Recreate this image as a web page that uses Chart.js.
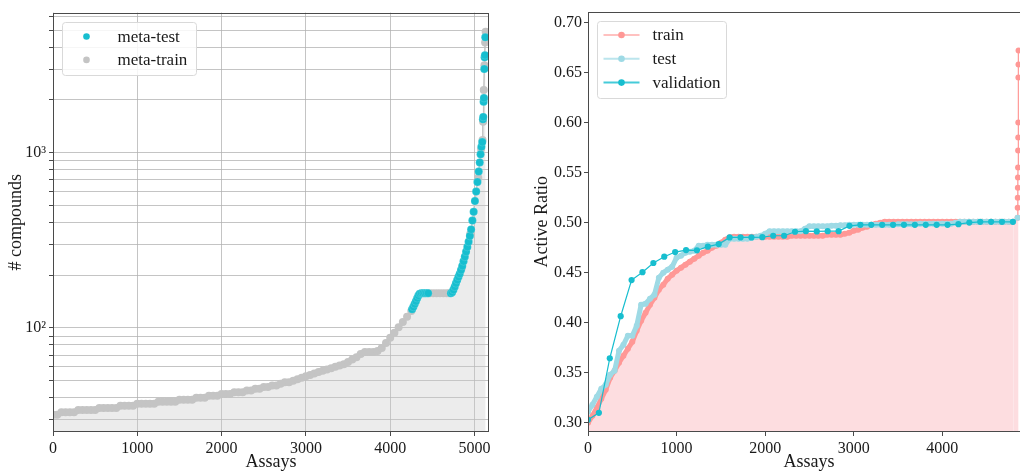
<!DOCTYPE html>
<html>
<head>
<meta charset="utf-8">
<script src="https://cdn.jsdelivr.net/npm/chart.js@4.4.1/dist/chart.umd.min.js"></script>
<style>
  html, body { margin: 0; padding: 0; background: #fff; overflow: hidden; width: 1020px; height: 471px; }
  canvas { position: absolute; top: 0; }
  #left { left: 0; }
  #right { left: 500px; }
</style>
</head>
<body>
<canvas id="left" width="500" height="471"></canvas>
<canvas id="right" width="534" height="471"></canvas>
<script>
// ---- left panel: # compounds per assay (sorted), meta-train vs meta-test ----
const trainAssays = [
  0, 50, 100, 150, 200, 250, 300, 350, 400, 450,
  500, 550, 600, 650, 700, 750, 800, 850, 900, 950,
  1000, 1050, 1100, 1150, 1200, 1250, 1300, 1350, 1400, 1450,
  1500, 1550, 1600, 1650, 1700, 1750, 1800, 1850, 1900, 1950,
  2000, 2050, 2100, 2150, 2200, 2250, 2300, 2350, 2400, 2450,
  2500, 2550, 2600, 2650, 2700, 2750, 2800, 2850, 2900, 2950,
  3000, 3050, 3100, 3150, 3200, 3250, 3300, 3350, 3400, 3450,
  3500, 3550, 3600, 3650, 3700, 3750, 3800, 3850, 3900, 3950,
  4000, 4050, 4100, 4150, 4200, 4250,
  4470, 4510, 4550, 4590, 4630, 4670, 4700,
  4850, 4950, 5045, 5078, 5096, 5102, 5110, 5118, 5126, 5132
];
const trainCompounds = [
  32, 32, 33, 33, 33, 33, 34, 34, 34, 34,
  34, 35, 35, 35, 35, 35, 36, 36, 36, 36,
  37, 37, 37, 37, 37, 38, 38, 38, 38, 38,
  39, 39, 39, 39, 40, 40, 40, 41, 41, 41,
  42, 42, 42, 43, 43, 43, 44, 44, 45, 45,
  46, 46, 47, 47, 48, 49, 49, 50, 51, 52,
  53, 54, 55, 56, 57, 58, 59, 60, 61, 62,
  64, 66, 68, 71, 73, 73, 73, 74, 77, 82,
  88, 94, 101, 108, 116, 125,
  158, 158, 158, 158, 158, 158, 158,
  220, 345, 720, 1050, 1180, 1500, 2280, 3150, 4250, 4900
];
const testAssays = [
  4260, 4275, 4290, 4305, 4320, 4335, 4350, 4370, 4390, 4410, 4430, 4450,
  4720, 4735, 4750, 4765, 4780, 4795, 4810, 4825, 4840, 4855,
  4870, 4885, 4900, 4915, 4930, 4945, 4960, 4975, 4990, 5005,
  5020, 5035, 5050, 5062, 5072, 5082, 5092, 5100, 5104, 5108,
  5112, 5116, 5120, 5124, 5128
];
const testCompounds = [
  128, 132, 137, 142, 148, 153, 157, 158, 158, 158, 158, 158,
  158, 160, 165, 172, 180, 188, 196, 204, 214, 226,
  240, 255, 272, 290, 310, 335, 365, 410, 460, 530,
  600, 680, 780, 880, 980, 1080, 1150, 1550, 1600, 1950,
  2050, 3000, 3500, 3600, 4550
];
const leftXTicks = [0, 1000, 2000, 3000, 4000, 5000];
const leftYTicks = [30, 40, 50, 60, 70, 80, 90, 100, 200, 300, 400, 500, 600, 700, 800, 900,
  1000, 2000, 3000, 4000, 5000, 6000];

// ---- right panel: active ratio ----
const curveAssays = [
  0, 50, 100, 150, 200, 250, 300, 350, 400, 450,
  500, 550, 600, 650, 700, 750, 800, 850, 900, 950,
  1000, 1050, 1100, 1150, 1200, 1250, 1300, 1350, 1400, 1450,
  1500, 1550, 1600, 1650, 1700, 1750, 1800, 1850, 1900, 1950,
  2000, 2050, 2100, 2150, 2200, 2250, 2300, 2350, 2400, 2450,
  2500, 2550, 2600, 2650, 2700, 2750, 2800, 2850, 2900, 2950,
  3000, 3050, 3100, 3150, 3200, 3250, 3300, 3350, 3400, 3450,
  3500, 3550, 3600, 3650, 3700, 3750, 3800, 3850, 3900, 3950,
  4000, 4050, 4100, 4150, 4200, 4250, 4300, 4350, 4400, 4450,
  4500, 4550, 4600, 4650, 4700, 4750, 4800
];
const trainRatio = [
  0.300, 0.307, 0.315, 0.324, 0.333, 0.345, 0.352, 0.360, 0.367, 0.374,
  0.381, 0.392, 0.402, 0.410, 0.418, 0.425, 0.433, 0.438, 0.444, 0.448,
  0.452, 0.455, 0.458, 0.461, 0.464, 0.467, 0.470, 0.472, 0.475, 0.477,
  0.480, 0.483, 0.4855, 0.486, 0.486, 0.486, 0.486, 0.486, 0.486, 0.486,
  0.486, 0.486, 0.486, 0.486, 0.486, 0.486, 0.487, 0.487, 0.487, 0.487,
  0.487, 0.487, 0.487, 0.487, 0.488, 0.488, 0.488, 0.488, 0.489, 0.490,
  0.492, 0.493, 0.495, 0.496, 0.498, 0.499, 0.500, 0.501, 0.501, 0.501,
  0.501, 0.501, 0.501, 0.501, 0.501, 0.501, 0.501, 0.501, 0.501, 0.501,
  0.501, 0.501, 0.501, 0.501, 0.501, 0.501, 0.501, 0.501, 0.501, 0.501,
  0.501, 0.501, 0.501, 0.501, 0.501, 0.501, 0.501
];
const trainTailAssays = [4850, 4851, 4852, 4853, 4854, 4855, 4856, 4857, 4858, 4859, 4860, 4861];
const trainTailRatio = [0.505, 0.515, 0.525, 0.535, 0.545, 0.555, 0.572, 0.585, 0.600, 0.645, 0.658, 0.672];
const testRatio = [
  0.311, 0.318, 0.326, 0.334, 0.338, 0.348, 0.352, 0.372, 0.378, 0.387,
  0.387, 0.397, 0.418, 0.419, 0.424, 0.428, 0.445, 0.450, 0.453, 0.456,
  0.465, 0.467, 0.470, 0.471, 0.472, 0.477, 0.477, 0.478, 0.478, 0.478,
  0.478, 0.478, 0.484, 0.484, 0.484, 0.484, 0.484, 0.485, 0.486, 0.487,
  0.489, 0.4915, 0.4915, 0.4915, 0.4915, 0.4915, 0.4915, 0.4915, 0.4915, 0.494,
  0.4965, 0.4965, 0.4965, 0.4965, 0.4965, 0.497, 0.497, 0.4975, 0.4975, 0.4978,
  0.4978, 0.4978, 0.4978, 0.4978, 0.4978, 0.4978, 0.4978, 0.4978, 0.4978, 0.4978,
  0.4985, 0.4985, 0.4985, 0.4985, 0.4985, 0.499, 0.499, 0.499, 0.499, 0.499,
  0.499, 0.499, 0.499, 0.500, 0.5008, 0.5008, 0.5008, 0.5008, 0.5008, 0.5008,
  0.5008, 0.5008, 0.5008, 0.5008, 0.5008, 0.5008, 0.5008
];
const testTailAssays = [4850];
const testTailRatio = [0.505];
const valAssays = [
  0, 123, 246, 369, 492, 615, 738, 861, 984, 1107,
  1230, 1353, 1476, 1599, 1722, 1845, 1968, 2091, 2214, 2337,
  2460, 2583, 2706, 2829, 2952, 3075, 3198, 3321, 3444, 3567,
  3690, 3813, 3936, 4059, 4182, 4305, 4428, 4551, 4674, 4797
];
const valRatio = [
  0.303, 0.310, 0.3645, 0.4065, 0.4426, 0.4505, 0.4597, 0.466, 0.4706, 0.4726,
  0.4723, 0.476, 0.4786, 0.4852, 0.4852, 0.4852, 0.4855, 0.4869, 0.4869, 0.4909,
  0.4915, 0.4912, 0.4915, 0.4915, 0.4968, 0.4978, 0.4978, 0.4978, 0.4978, 0.4978,
  0.4978, 0.4978, 0.4978, 0.4978, 0.4985, 0.5001, 0.5008, 0.5008, 0.5008, 0.5008
];
const rightXTicks = [0, 1000, 2000, 3000, 4000];
const rightYTicks = [0.30, 0.35, 0.40, 0.45, 0.50, 0.55, 0.60, 0.65, 0.70];

//pairs up x and y arrays
function pts(xs, ys) {
  return xs.map((x, i) => ({x: x, y: ys[i]}));
}

Chart.defaults.font.family = "'Liberation Serif', 'DejaVu Serif', serif";
Chart.defaults.color = '#1a1a1a';

const SPINE = '#4a4a4a';
const TAIL_FROM = 4850;

function roundRect(ctx, x, y, w, h, r) {
  ctx.beginPath();
  ctx.moveTo(x + r, y);
  ctx.lineTo(x + w - r, y);
  ctx.arcTo(x + w, y, x + w, y + r, r);
  ctx.lineTo(x + w, y + h - r);
  ctx.arcTo(x + w, y + h, x + w - r, y + h, r);
  ctx.lineTo(x + r, y + h);
  ctx.arcTo(x, y + h, x, y + h - r, r);
  ctx.lineTo(x, y + r);
  ctx.arcTo(x, y, x + r, y, r);
  ctx.closePath();
}

//box round the plot area, like matplotlib spines
const framePlugin = {
  id: 'frame',
  afterDatasetsDraw(chart) {
    const a = chart.chartArea, ctx = chart.ctx;
    ctx.save();
    ctx.strokeStyle = SPINE;
    ctx.lineWidth = 1;
    ctx.strokeRect(Math.round(a.left) + 0.5, Math.round(a.top) + 0.5,
      Math.round(a.right - a.left) - 1, Math.round(a.bottom - a.top) - 1);
    ctx.restore();
  }
};

//legend drawn inside the plot, upper left
const boxLegend = {
  id: 'boxLegend',
  afterDraw(chart, args, opts) {
    const ctx = chart.ctx, a = chart.chartArea;
    const items = chart.data.datasets.filter(d => d.inLegend);
    const x0 = Math.round(a.left + opts.dx) + 0.5, y0 = Math.round(a.top + opts.dy) + 0.5;
    ctx.save();
    roundRect(ctx, x0, y0, opts.w, opts.h, 3);
    ctx.fillStyle = 'rgba(255,255,255,0.85)';
    ctx.fill();
    ctx.strokeStyle = '#d9d9d9';
    ctx.lineWidth = 1;
    ctx.stroke();
    items.forEach((d, i) => {
      const y = y0 + opts.first + i * opts.step;
      if (opts.line) {
        ctx.strokeStyle = d.legendLine;
        ctx.lineWidth = 2;
        ctx.beginPath();
        ctx.moveTo(x0 + 6, y);
        ctx.lineTo(x0 + 42, y);
        ctx.stroke();
      }
      ctx.fillStyle = d.pointBackgroundColor;
      ctx.beginPath();
      ctx.arc(x0 + opts.markerX, y, 3.3, 0, Math.PI * 2);
      ctx.fill();
      ctx.fillStyle = '#1a1a1a';
      ctx.font = "17px 'Liberation Serif', serif";
      ctx.textBaseline = 'middle';
      ctx.fillText(d.label, x0 + opts.textX, y + 1);
    });
    ctx.restore();
  }
};

// left chart
const areaPoints = pts(trainAssays, trainCompounds)
  .concat(pts(testAssays, testCompounds))
  .sort((p, q) => p.x - q.x);

new Chart(document.getElementById('left'), {
  type: 'scatter',
  data: {
    datasets: [
      {
        label: 'meta-test', inLegend: true,
        data: pts(testAssays, testCompounds),
        pointBackgroundColor: '#17becf',
        pointBorderColor: 'rgba(255,255,255,0.35)',
        pointBorderWidth: 0.4,
        pointRadius: 4
      },
      {
        label: 'meta-train', inLegend: true,
        data: pts(trainAssays, trainCompounds),
        pointBackgroundColor: '#c4c4c4',
        pointBorderWidth: 0,
        pointRadius: 4
      },
      {
        label: 'area', type: 'line',
        data: areaPoints,
        fill: 'start',
        backgroundColor: 'rgba(200,200,200,0.35)',
        borderColor: '#c4c4c4',
        borderWidth: 1.5,
        pointRadius: 0
      }
    ]
  },
  options: {
    responsive: false,
    animation: false,
    layout: { padding: { top: 7, right: 11, left: 0, bottom: 0 } },
    plugins: {
      legend: { display: false },
      tooltip: { enabled: false },
      boxLegend: { dx: 9, dy: 9, w: 134, h: 53, first: 14, step: 23.4, markerX: 24, textX: 55, line: false }
    },
    scales: {
      x: {
        type: 'linear', min: 0, max: 5172,
        afterBuildTicks: s => { s.ticks = leftXTicks.map(v => ({value: v})); },
        afterFit: s => { s.height = 39; },
        grid: { color: 'rgba(176,176,176,0.75)', tickColor: SPINE, tickLength: 4 },
        border: { display: false },
        ticks: { font: { size: 16 }, padding: 3, maxRotation: 0, callback: v => String(v) },
        title: { display: true, text: 'Assays', font: { size: 18 }, padding: { top: 0, bottom: -2 } }
      },
      y: {
        type: 'logarithmic', min: 25.5, max: 6300,
        afterBuildTicks: s => { s.ticks = leftYTicks.map(v => ({value: v})); },
        afterFit: s => { s.width = 53; },
        grid: { color: 'rgba(176,176,176,0.75)', tickColor: SPINE, tickLength: 4 },
        border: { display: false },
        ticks: {
          font: { size: 16 }, padding: 3, autoSkip: false,
          callback: v => v === 100 ? '10²' : (v === 1000 ? '10³' : '')
        },
        title: { display: true, text: '# compounds', font: { size: 18 }, padding: { top: 5, bottom: 0 } }
      }
    }
  },
  plugins: [framePlugin, boxLegend]
});

// right chart
const tailWidth = ctx => ctx.p1.parsed.x >= TAIL_FROM ? 1.2 : undefined;

new Chart(document.getElementById('right'), {
  type: 'line',
  data: {
    datasets: [
      {
        label: 'train', inLegend: true, order: 2,
        data: pts(curveAssays.concat(trainTailAssays), trainRatio.concat(trainTailRatio)),
        borderColor: '#ff9896',
        legendLine: 'rgba(255,152,150,0.6)',
        borderWidth: 5,
        segment: { borderWidth: tailWidth },
        pointBackgroundColor: '#ff9896',
        pointBorderWidth: 0,
        pointRadius: 3,
        fill: 'start',
        backgroundColor: '#fddde0'
      },
      {
        label: 'test', inLegend: true, order: 1,
        data: pts(curveAssays.concat(testTailAssays), testRatio.concat(testTailRatio)),
        borderColor: '#9edae5',
        legendLine: 'rgba(158,218,229,0.7)',
        borderWidth: 5,
        segment: { borderWidth: tailWidth },
        pointBackgroundColor: '#9edae5',
        pointBorderWidth: 0,
        pointRadius: 3,
        fill: false
      },
      {
        label: 'validation', inLegend: true, order: 0,
        data: pts(valAssays, valRatio),
        borderColor: '#17becf',
        legendLine: 'rgba(23,190,207,0.8)',
        borderWidth: 1.2,
        pointBackgroundColor: '#17becf',
        pointBorderWidth: 0,
        pointRadius: 3.1,
        fill: false
      }
    ]
  },
  options: {
    responsive: false,
    animation: false,
    layout: { padding: { top: 7, right: 4, left: 0, bottom: 0 } },
    plugins: {
      legend: { display: false },
      tooltip: { enabled: false },
      boxLegend: { dx: 8.5, dy: 9, w: 129, h: 77, first: 13.5, step: 23.8, markerX: 24, textX: 55, line: true }
    },
    scales: {
      x: {
        type: 'linear', min: 0, max: 4990,
        afterBuildTicks: s => { s.ticks = rightXTicks.map(v => ({value: v})); },
        afterFit: s => { s.height = 39; },
        grid: { drawOnChartArea: false, tickColor: SPINE, tickLength: 4 },
        border: { display: false },
        ticks: { font: { size: 16 }, padding: 3, maxRotation: 0, callback: v => String(v) },
        title: { display: true, text: 'Assays', font: { size: 18 }, padding: { top: 0, bottom: -2 } }
      },
      y: {
        type: 'linear', min: 0.2908, max: 0.7109,
        afterBuildTicks: s => { s.ticks = rightYTicks.map(v => ({value: v})); },
        afterFit: s => { s.width = 88; },
        grid: { drawOnChartArea: false, tickColor: SPINE, tickLength: 4 },
        border: { display: false },
        ticks: { font: { size: 16 }, padding: 2, autoSkip: false, callback: v => v.toFixed(2) },
        title: { display: true, text: 'Active Ratio', font: { size: 18 }, padding: { top: 31, bottom: 0 } }
      }
    }
  },
  plugins: [framePlugin, boxLegend]
});
</script>
</body>
</html>
